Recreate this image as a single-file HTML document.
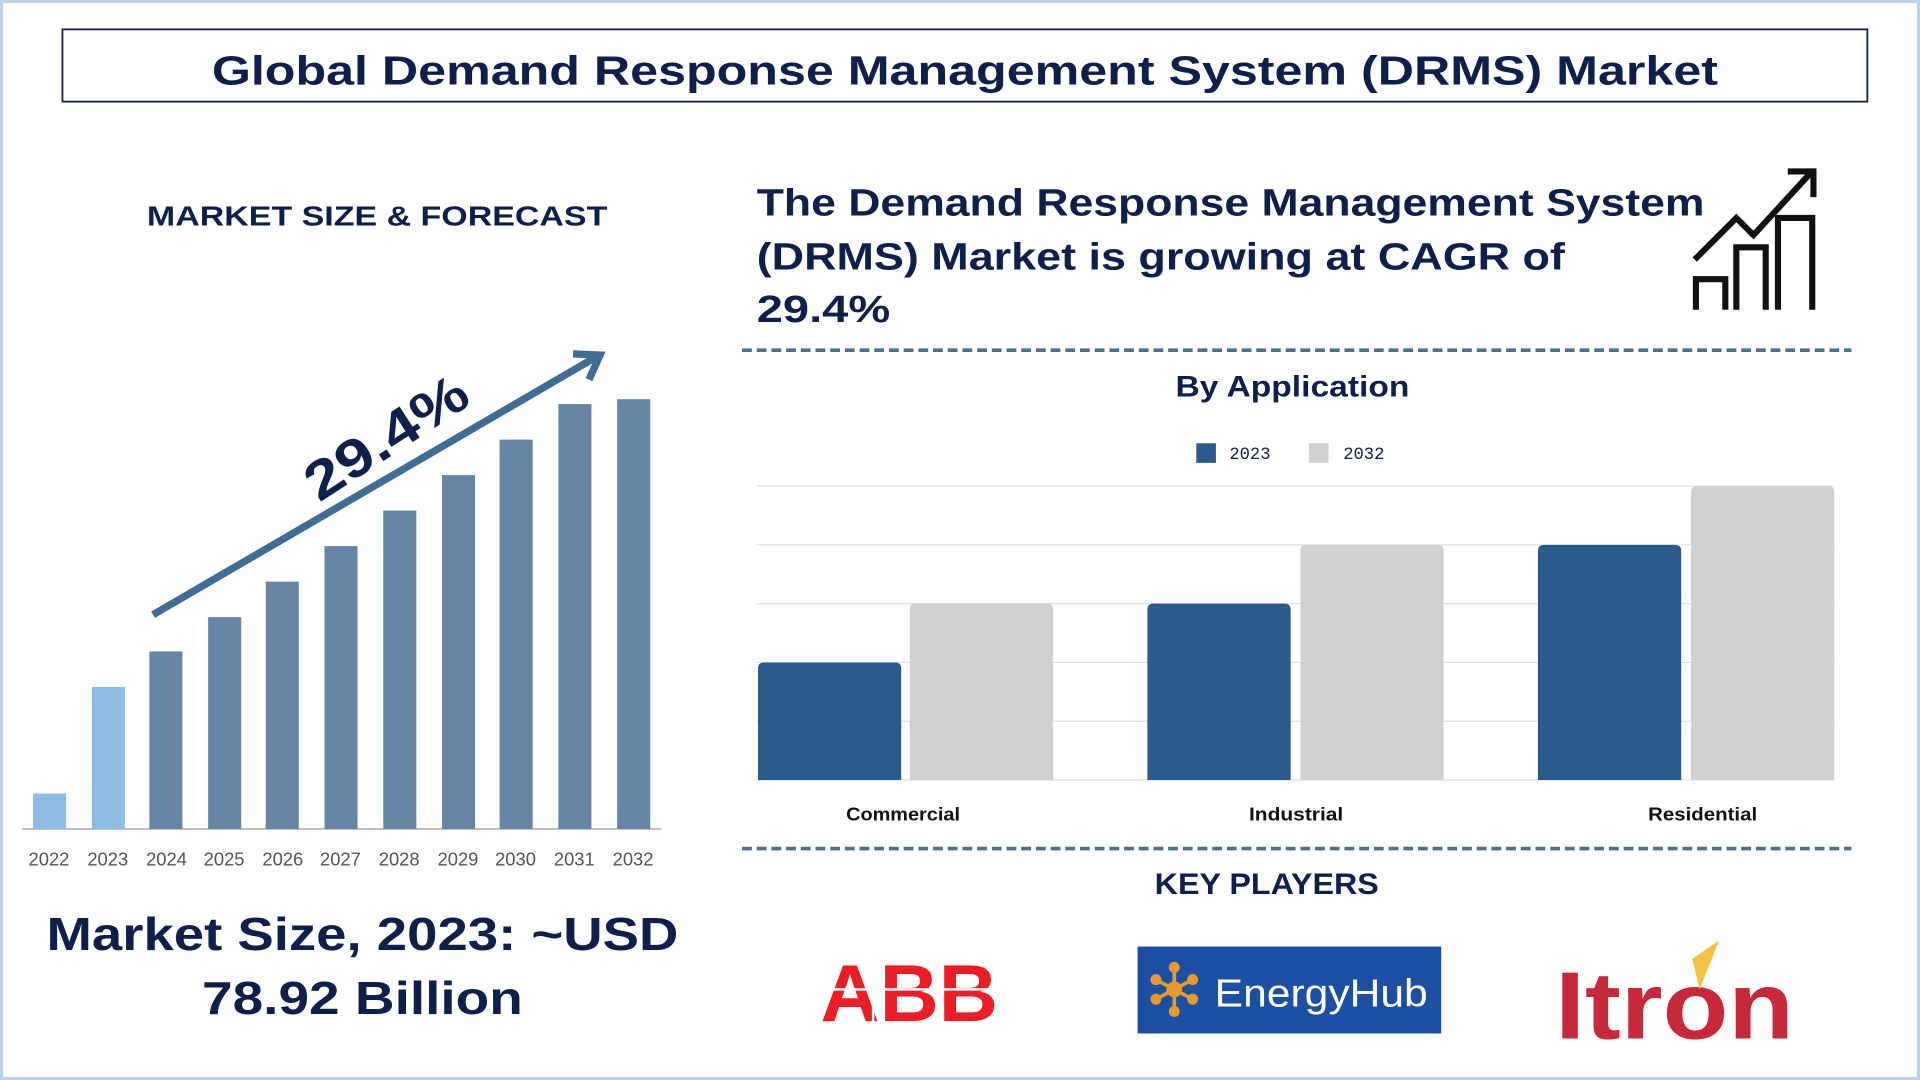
<!DOCTYPE html>
<html><head><meta charset="utf-8"><style>
html,body{margin:0;padding:0;background:#fff;}
svg{display:block;}
text{font-family:"Liberation Sans",sans-serif;font-weight:bold;fill:#0f1f4b;}
</style></head><body>
<svg width="1920" height="1080" viewBox="0 0 1568 882" xmlns="http://www.w3.org/2000/svg">
<rect x="1" y="1" width="1566" height="880" fill="#fff" stroke="#b9d1e7" stroke-width="3"/>
<rect x="51" y="24" width="1474" height="59" fill="none" stroke="#1a2540" stroke-width="1.5"/>
<text x="173" y="69" font-size="33" textLength="1230" lengthAdjust="spacingAndGlyphs">Global Demand Response Management System (DRMS) Market</text>
<text x="120" y="184" font-size="23" textLength="376" lengthAdjust="spacingAndGlyphs">MARKET SIZE &amp; FORECAST</text>
<text x="618" y="176" font-size="31" textLength="774" lengthAdjust="spacingAndGlyphs">The Demand Response Management System</text>
<text x="618" y="220" font-size="31" textLength="660" lengthAdjust="spacingAndGlyphs">(DRMS) Market is growing at CAGR of</text>
<text x="618" y="263" font-size="31" textLength="109" lengthAdjust="spacingAndGlyphs">29.4%</text>
<g fill="none" stroke="#111" stroke-width="5">
<path d="M1385 253 V228 H1409 V253"/>
<path d="M1418 253 V202 H1442 V253"/>
<path d="M1452 253 V178 H1480 V253"/>
<path d="M1384 212 L1418 178 L1432 192 L1478 142"/>
<path d="M1460 140 H1481 V161"/>
</g>
<line x1="606" y1="286" x2="1512" y2="286" stroke="#4a6f8f" stroke-width="3" stroke-dasharray="8,4"/>
<text x="960" y="324" font-size="24" textLength="191" lengthAdjust="spacingAndGlyphs">By Application</text>
<rect x="977" y="362" width="16" height="16" fill="#2a5b8c"/>
<text x="1004" y="375" font-size="14" style="font-family:'Liberation Mono',monospace;font-weight:normal" fill="#333">2023</text>
<rect x="1069" y="362" width="16" height="16" fill="#d0d0d0"/>
<text x="1097" y="375" font-size="14" style="font-family:'Liberation Mono',monospace;font-weight:normal" fill="#333">2032</text>
<g stroke="#e0e0e0" stroke-width="1">
<line x1="618" y1="397" x2="1498" y2="397"/><line x1="618" y1="445" x2="1498" y2="445"/>
<line x1="618" y1="493" x2="1498" y2="493"/><line x1="618" y1="541" x2="1498" y2="541"/>
<line x1="618" y1="589" x2="1498" y2="589"/><line x1="618" y1="637" x2="1498" y2="637"/>
</g>
<g>
<path d="M619 637 V546 Q619 541 624 541 H731 Q736 541 736 546 V637Z" fill="#2a5b8c"/>
<path d="M743 637 V498 Q743 493 748 493 H855 Q860 493 860 498 V637Z" fill="#d0d0d0"/>
<path d="M937 637 V498 Q937 493 942 493 H1049 Q1054 493 1054 498 V637Z" fill="#2a5b8c"/>
<path d="M1062 637 V450 Q1062 445 1067 445 H1174 Q1179 445 1179 450 V637Z" fill="#d0d0d0"/>
<path d="M1256 637 V450 Q1256 445 1261 445 H1368 Q1373 445 1373 450 V637Z" fill="#2a5b8c"/>
<path d="M1381 637 V402 Q1381 397 1386 397 H1493 Q1498 397 1498 402 V637Z" fill="#d0d0d0"/>
</g>
<text x="691" y="670" font-size="15" fill="#111" style="fill:#111" textLength="93" lengthAdjust="spacingAndGlyphs">Commercial</text>
<text x="1020" y="670" font-size="15" style="fill:#111" textLength="77" lengthAdjust="spacingAndGlyphs">Industrial</text>
<text x="1346" y="670" font-size="15" style="fill:#111" textLength="89" lengthAdjust="spacingAndGlyphs">Residential</text>
<line x1="606" y1="693" x2="1512" y2="693" stroke="#4a6f8f" stroke-width="3" stroke-dasharray="8,4"/>
<text x="943" y="730" font-size="24" textLength="183" lengthAdjust="spacingAndGlyphs">KEY PLAYERS</text>
<text x="670" y="834" font-size="66" style="fill:#ee1c25;font-weight:900" textLength="145" lengthAdjust="spacingAndGlyphs">ABB</text>
<g stroke="#fff" stroke-width="2"><line x1="670" y1="808" x2="815" y2="808"/><line x1="713" y1="780" x2="713" y2="836"/><line x1="766" y1="780" x2="766" y2="836"/></g>
<rect x="929" y="773" width="248" height="71" fill="#1b4fa3"/>
<g stroke="#e89a2c" stroke-width="3" fill="#e89a2c">
<line x1="959" y1="790" x2="959" y2="826"/><line x1="944" y1="800" x2="974" y2="816"/><line x1="944" y1="816" x2="974" y2="800"/>
<circle cx="959" cy="808" r="5"/><circle cx="959" cy="790" r="3"/><circle cx="959" cy="826" r="3"/><circle cx="944" cy="800" r="3"/><circle cx="974" cy="816" r="3"/><circle cx="944" cy="816" r="3"/><circle cx="974" cy="800" r="3"/>
</g>
<text x="992" y="822" font-size="32" style="fill:#fff;font-weight:normal" textLength="174" lengthAdjust="spacingAndGlyphs">EnergyHub</text>
<text x="1270" y="848" font-size="78" style="fill:#c8283a" textLength="195" lengthAdjust="spacingAndGlyphs">Itron</text>
<polygon points="1382,783 1404,768 1388,808" fill="#f5c343"/>
<line x1="18" y1="677" x2="540" y2="677" stroke="#bbb" stroke-width="1.5"/>
<rect x="27" y="648" width="27" height="29" fill="#8ebde3"/>
<rect x="75" y="561" width="27" height="116" fill="#8ebde3"/>
<g fill="#6486a4">
<rect x="122" y="532" width="27" height="145"/><rect x="170" y="504" width="27" height="173"/>
<rect x="217" y="475" width="27" height="202"/><rect x="265" y="446" width="27" height="231"/>
<rect x="313" y="417" width="27" height="260"/><rect x="361" y="388" width="27" height="289"/>
<rect x="408" y="359" width="27" height="318"/><rect x="456" y="330" width="27" height="347"/>
<rect x="504" y="326" width="27" height="351"/>
</g>
<g font-size="15" text-anchor="middle">
<text x="40" y="707" style="font-weight:normal;fill:#555">2022</text><text x="88" y="707" style="font-weight:normal;fill:#555">2023</text>
<text x="136" y="707" style="font-weight:normal;fill:#555">2024</text><text x="183" y="707" style="font-weight:normal;fill:#555">2025</text>
<text x="231" y="707" style="font-weight:normal;fill:#555">2026</text><text x="278" y="707" style="font-weight:normal;fill:#555">2027</text>
<text x="326" y="707" style="font-weight:normal;fill:#555">2028</text><text x="374" y="707" style="font-weight:normal;fill:#555">2029</text>
<text x="421" y="707" style="font-weight:normal;fill:#555">2030</text><text x="469" y="707" style="font-weight:normal;fill:#555">2031</text>
<text x="517" y="707" style="font-weight:normal;fill:#555">2032</text>
</g>
<line x1="125" y1="502" x2="486" y2="292" stroke="#3f6d96" stroke-width="6"/>
<path d="M468 289 L490 290 L481 310" fill="none" stroke="#3f6d96" stroke-width="6"/>
<text x="316" y="372" font-size="44" text-anchor="middle" transform="rotate(-33 316 358)" textLength="150" lengthAdjust="spacingAndGlyphs">29.4%</text>
<text x="296" y="776" font-size="38" text-anchor="middle" fill="#1e2a4f" textLength="516" lengthAdjust="spacingAndGlyphs">Market Size, 2023: ~USD</text>
<text x="296" y="828" font-size="38" text-anchor="middle" textLength="262" lengthAdjust="spacingAndGlyphs">78.92 Billion</text>
</svg>
</body></html>
